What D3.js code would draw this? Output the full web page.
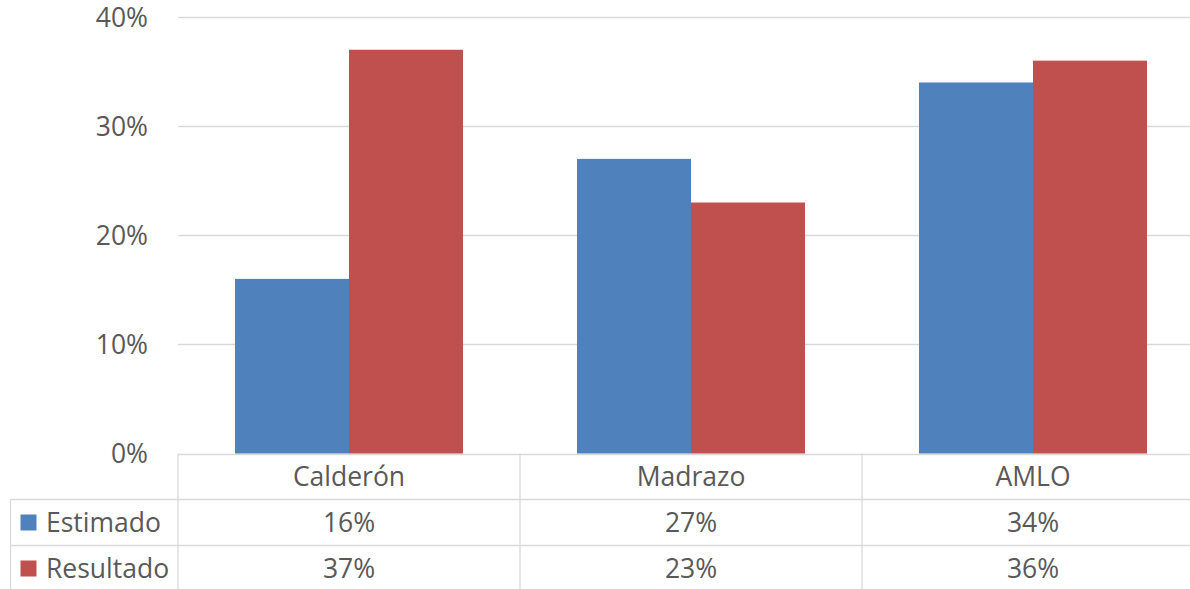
<!DOCTYPE html>
<html>
<head>
<meta charset="utf-8">
<script src="https://cdn.jsdelivr.net/npm/d3@7"></script>
<style>
  html, body { margin: 0; padding: 0; background: #fff; overflow: hidden; }
  svg { display: block; }
  text { font-family: "Open Sans", "DejaVu Sans", sans-serif; fill: #595959; font-size: 26.5px; }
</style>
</head>
<body>
<svg width="1190" height="589"></svg>
<script>
// chart data
const categories = ["Calderón", "Madrazo", "AMLO"];
const seriesNames = ["Estimado", "Resultado"];
const estimado = [0.16, 0.27, 0.34];
const resultado = [0.37, 0.23, 0.36];
const yTicks = [0, 0.1, 0.2, 0.3, 0.4];
const colors = ["#4f81bd", "#c0504d"];

const seriesValues = [estimado, resultado];

var svg = d3.select("svg");
var plotLeft = 178, plotRight = 1204, plotTop = 17, base = 453.5;
var rowH = 46, tableLeft = 10.5;

var x = d3.scaleBand().domain(categories).range([plotLeft, plotRight]);
var xs = d3.scaleBand().domain(seriesNames).range([0, x.bandwidth()]).paddingOuter(0.5);
var y = d3.scaleLinear().domain([0, 0.4]).range([base, plotTop]);
var pct = d3.format(".0%");

// gridlines
svg.append("g").selectAll("line")
    .data(yTicks)
  .enter().append("line")
    .attr("x1", plotLeft).attr("x2", plotRight)
    .attr("y1", function(d) { return Math.round(y(d)) + 0.5; })
    .attr("y2", function(d) { return Math.round(y(d)) + 0.5; })
    .attr("stroke", "#d9d9d9").attr("stroke-width", 1.3);

// y labels
svg.append("g").selectAll("text")
    .data(yTicks)
  .enter().append("text")
    .attr("x", 148)
    .attr("y", function(d) { return y(d); })
    .attr("dy", "0.36em")
    .attr("text-anchor", "end")
    .text(function(d) { return pct(d); });

// bars
seriesNames.forEach(function(s, i) {
    svg.append("g").selectAll("rect")
        .data(seriesValues[i])
      .enter().append("rect")
        .attr("x", function(d, j) { return x(categories[j]) + xs(s); })
        .attr("width", xs.bandwidth())
        .attr("y", function(d) { return y(d); })
        .attr("height", function(d) { return base - y(d); })
        .attr("fill", colors[i]);
});

// data table lines
var grid = svg.append("g").attr("stroke", "#d9d9d9").attr("stroke-width", 1.3);
[base + rowH, base + rowH * 2].forEach(function(yy) {
    grid.append("line").attr("x1", tableLeft).attr("x2", plotRight).attr("y1", yy).attr("y2", yy);
});
grid.append("line").attr("x1", tableLeft).attr("x2", tableLeft).attr("y1", base + rowH).attr("y2", base + rowH * 3);
categories.concat([null]).forEach(function(c, j) {
    var xx = j < categories.length ? x(c) : plotRight;
    grid.append("line").attr("x1", xx).attr("x2", xx).attr("y1", base).attr("y2", base + rowH * 3);
});

// header labels
svg.append("g").selectAll("text")
    .data(categories)
  .enter().append("text")
    .attr("x", function(d) { return x(d) + x.bandwidth() / 2; })
    .attr("y", base + rowH / 2)
    .attr("dy", "0.36em")
    .attr("text-anchor", "middle")
    .text(function(d) { return d; });

// rows
seriesNames.forEach(function(s, i) {
    var cy = base + rowH * (i + 1) + rowH / 2;
    svg.append("rect")
        .attr("x", 20.5).attr("y", cy - 8).attr("width", 16).attr("height", 16)
        .attr("fill", colors[i]);
    svg.append("text")
        .attr("x", 46).attr("y", cy).attr("dy", "0.36em")
        .text(s);
    svg.append("g").selectAll("text")
        .data(seriesValues[i])
      .enter().append("text")
        .attr("x", function(d, j) { return x(categories[j]) + x.bandwidth() / 2; })
        .attr("y", cy)
        .attr("dy", "0.36em")
        .attr("text-anchor", "middle")
        .text(function(d) { return pct(d); });
});
</script>
</body>
</html>
